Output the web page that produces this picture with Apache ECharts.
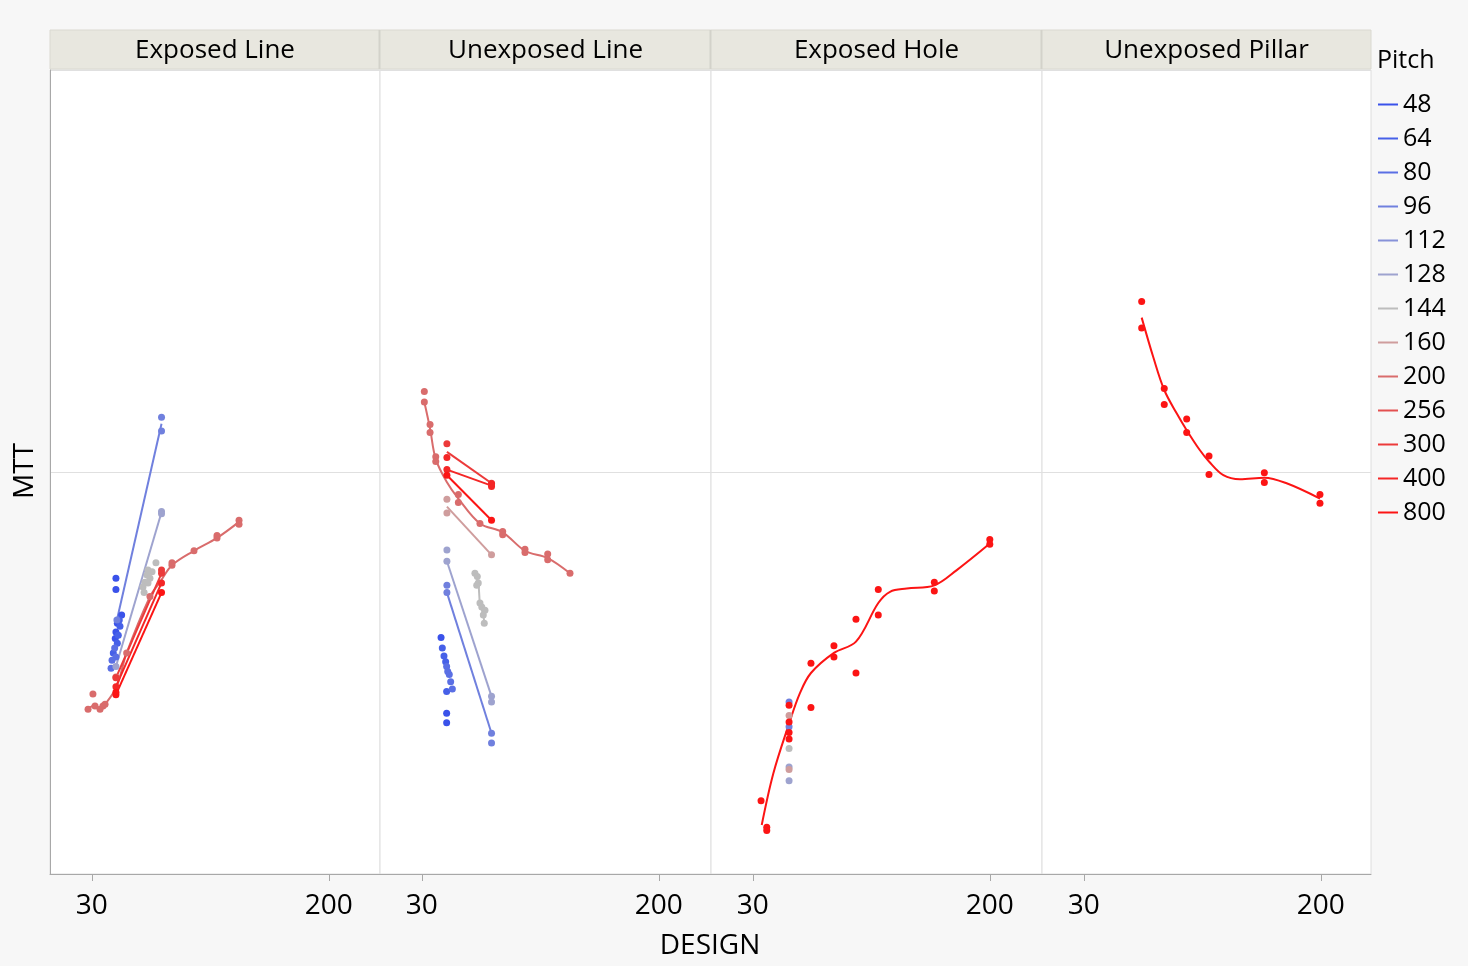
<!DOCTYPE html>
<html><head><meta charset="utf-8">
<script src="https://cdn.jsdelivr.net/npm/echarts@6/dist/echarts.min.js"></script>
<style>html,body{margin:0;padding:0;background:#f7f7f7;}#c{width:1468px;height:966px;}</style>
</head><body><div id="c"></div>
<script>
// ---------------- DATA ----------------
const pitches = ['48','64','80','96','112','128','144','160','200','256','300','400','800'];
const pitchColors = ['#3a52ea','#4660e8','#5a6fe4','#7080de','#8792d9','#9ea3cf','#bdbdbd','#cf9d9d','#d96c6c','#e35050','#ec3a3a','#f42626','#fc1414'];
const panelNames = ['Exposed Line','Unexposed Line','Exposed Hole','Unexposed Pillar'];
const designTicks = [30, 200];
const refMTT = 50;

// rows: [pitch, DESIGN, MTT]
const exposedLinePoints = [
  ['48',47.3,36.8],['48',47.3,35.4],['48',51.4,32.2],['48',48.3,31.2],['48',47.3,30.1],['48',46.8,29.3],
  ['64',49.7,31.6],['64',50.2,30.8],['64',49.0,29.7],['64',48.3,28.7],['64',45.4,27.5],
  ['80',46.4,28.1],['80',47.3,27.0],['80',44.5,26.6],['80',43.8,25.6],
  ['96',48,31.6],['96',80,56.8],['96',80,55.1],
  ['128',47.3,25.8],['128',80,45.1],['128',80,44.8],
  ['144',76.0,38.7],['144',70.3,37.8],['144',73.2,37.6],['144',69.6,37.2],['144',71.7,36.8],['144',68.1,36.3],['144',70.3,36.2],['144',66.7,35.7],['144',67.5,35.0],
  ['200',27.3,20.5],['200',30.8,22.4],['200',32.3,20.9],['200',35.9,20.5],['200',38.0,20.9],['200',39.5,21.1],['200',47.3,24.5],['200',55.0,27.5],['200',71.7,34.5],['200',87.5,38.4],['200',87.5,38.7],['200',103.3,40.2],['200',119.8,41.8],['200',119.8,42.1],['200',135.6,44.0],['200',135.6,43.5],
  ['300',47.3,24.4],['300',80,37.4],['300',80,37.8],
  ['400',47.3,23.3],['400',80,36.2],
  ['800',47.3,22.3],['800',47.3,22.6],['800',80,35.0]
];
const exposedLineLines = [
  ['96',48,31.6],['96',80,56.0],
  ['128',47.3,25.8],['128',80,45.0],
  ['300',47.3,24.4],['300',80,37.4],
  ['400',47.3,23.3],['400',80,36.2],
  ['800',47.3,22.3],['800',80,35.0],
  ['200',27.3,20.5],['200',30.8,20.9],['200',35.9,20.6],['200',39.5,21.1],['200',47.8,23.3],['200',55.0,27.5],['200',71.7,34.5],['200',78.9,36.3],['200',87.5,38.4],['200',103.3,40.2],['200',119.8,41.8],['200',135.6,43.8]
];

const unexposedLinePoints = [
  ['48',43.8,29.4],['48',47.8,20.0],['48',47.8,18.8],
  ['64',44.7,28.1],['64',45.9,27.1],['64',47.1,26.4],['64',47.8,22.7],
  ['80',47.8,25.8],['80',48.6,25.2],['80',49.7,24.8],['80',50.7,23.9],['80',51.9,23.0],
  ['96',48,35.9],['96',48,35.0],['96',80,17.5],['96',80,16.3],
  ['128',48,40.3],['128',48,38.9],['128',80,22.1],['128',80,21.4],
  ['144',68.1,37.4],['144',69.8,37.0],['144',70.5,36.2],['144',69.4,35.9],['144',71.7,33.7],['144',73.0,33.2],['144',75.3,32.8],['144',74.1,32.2],['144',74.8,31.2],
  ['160',48,46.6],['160',48,44.9],['160',80,39.7],
  ['200',31.8,60.0],['200',31.8,58.7],['200',35.9,55.9],['200',35.9,54.9],['200',40.0,51.9],['200',40.0,51.3],['200',56.2,47.2],['200',56.2,46.2],['200',71.7,43.6],['200',88,42.6],['200',88,42.2],['200',104,40.4],['200',104,40.0],['200',120.3,39.8],['200',120.3,39.1],['200',136.3,37.4],
  ['300',48,53.5],['300',80,48.6],
  ['400',48,51.8],['400',48,50.3],['400',80,48.2],['400',80,48.5],
  ['800',48,49.6],['800',80,44.0]
];
const unexposedLineLines = [
  ['96',48,35.0],['96',80,17.5],
  ['128',48,38.9],['128',80,22.1],
  ['144',68.1,37.4],['144',70.5,36.2],['144',71.7,33.7],['144',74.1,32.2],['144',74.8,31.2],
  ['160',48,45.7],['160',80,39.7],
  ['300',48,52.5],['300',80,48.6],
  ['400',48,50.3],['400',80,48.3],
  ['800',48,49.6],['800',80,44.0],
  ['200',31.8,58.7],['200',35.9,55.4],['200',40.0,51.6],['200',47.8,48.8],['200',56.2,46.7],['200',71.7,43.6],['200',88,42.5],['200',104,40.2],['200',120.3,39.3],['200',136.3,37.4]
];

const exposedHolePoints = [
  ['96',56,21.4],['96',56,18.3],
  ['128',56,13.3],['128',56,11.6],
  ['144',56,15.6],
  ['160',56,19.7],['160',56,13.0],
  ['800',35.9,9.1],['800',40,5.8],['800',40,5.4],['800',56,21.0],['800',56,18.9],['800',56,17.6],['800',56,16.8],
  ['800',71.7,26.2],['800',71.7,20.7],['800',88.2,28.4],['800',88.2,27.0],['800',104,31.7],['800',104,25.0],
  ['800',120,35.4],['800',120,32.2],['800',160.2,36.3],['800',160.2,35.2],['800',200,41.6],['800',200,41.0]
];
const exposedHoleFit = [
  ['800',36.4,6.1],['800',44.7,12.5],['800',56,18.7],['800',63.8,22.5],['800',71.7,25.0],['800',88.2,27.5],['800',104,28.9],
  ['800',120,33.7],['800',128.4,35.1],['800',140.4,35.5],['800',160.2,35.9],['800',176.3,37.8],['800',200,41.1]
];

const unexposedPillarPoints = [
  ['800',71.5,71.2],['800',71.5,67.9],['800',87.7,60.4],['800',87.7,58.4],['800',103.8,56.6],['800',103.8,54.9],
  ['800',119.8,52.0],['800',119.8,49.7],['800',159.5,49.9],['800',159.5,48.7],['800',199.4,47.2],['800',199.4,46.1]
];
const unexposedPillarFit = [
  ['800',71.5,69.2],['800',79.8,64.3],['800',87.7,60.2],['800',96.6,57.3],['800',103.8,55.2],['800',113.3,52.7],
  ['800',119.8,51.3],['800',130.1,49.6],['800',142.0,49.1],['800',159.5,49.3],['800',175.5,48.6],['800',199.4,46.7]
];

const panelPoints = [exposedLinePoints, unexposedLinePoints, exposedHolePoints, unexposedPillarPoints];
const panelLines = [exposedLineLines, unexposedLineLines, exposedHoleFit, unexposedPillarFit];

// ---------------- LAYOUT ----------------
const FONT = '"Open Sans", "Noto Sans", sans-serif';
const edges = [50, 380, 711, 1042, 1371];
const PX_PER_UNIT = 1.394;
const GT = 70, GH = 804;
const colorOf = p => pitchColors[pitches.indexOf(p)];

function groupBy(rows) {
  const m = {};
  rows.forEach(r => { (m[r[0]] = m[r[0]] || []).push([r[1], r[2]]); });
  return m;
}

const grids = [], xAxes = [], yAxes = [], series = [];
pitches.forEach((p, i) => {
  series.push({ name: p, type: 'line', data: [], xAxisIndex: 0, yAxisIndex: 0,
    itemStyle: { color: pitchColors[i] }, lineStyle: { color: pitchColors[i] } });
});

for (let k = 0; k < 4; k++) {
  const w = edges[k + 1] - edges[k];
  grids.push({ left: edges[k], top: GT, width: w, height: GH, show: true,
    backgroundColor: '#ffffff', borderColor: '#dedede', borderWidth: 1 });
  xAxes.push({ type: 'value', gridIndex: k, min: 0, max: w / PX_PER_UNIT,
    axisLine: { show: true, lineStyle: { color: '#a8a8a8', width: 1 } },
    axisTick: { show: true, length: 7, customValues: designTicks, lineStyle: { color: '#a8a8a8' } },
    axisLabel: { show: true, customValues: designTicks, fontSize: 28, color: '#000', fontFamily: FONT, margin: 18 },
    splitLine: { show: false } });
  yAxes.push({ type: 'value', gridIndex: k, min: 0, max: 100, interval: refMTT,
    axisLine: { show: k === 0, lineStyle: { color: '#a8a8a8', width: 1 } },
    axisTick: { show: false }, axisLabel: { show: false },
    splitLine: { show: true, lineStyle: { color: '#e0e0e0', width: 1 } } });

  const lg = groupBy(panelLines[k]);
  Object.keys(lg).forEach(p => {
    series.push({ name: p, type: 'line', xAxisIndex: k, yAxisIndex: k, data: lg[p],
      showSymbol: false, smooth: lg[p].length > 2 ? 0.35 : false, z: 2,
      lineStyle: { color: colorOf(p), width: 2 }, itemStyle: { color: colorOf(p) } });
  });
  const pg = groupBy(panelPoints[k]);
  Object.keys(pg).forEach(p => {
    series.push({ name: p, type: 'scatter', xAxisIndex: k, yAxisIndex: k, data: pg[p],
      symbol: 'circle', symbolSize: 7, z: 3, itemStyle: { color: colorOf(p), opacity: 1 } });
  });
}

function txt(x, y, s, size, align, rot) {
  return { type: 'text', x: x, y: y, rotation: rot || 0, z: 10,
    style: { text: s, font: size + 'px ' + FONT, fill: '#000',
      textAlign: align, textVerticalAlign: 'middle', align: align, verticalAlign: 'middle' } };
}
const graphic = [
  { type: 'rect', shape: { x: 50, y: 30, width: 1321, height: 39 }, style: { fill: '#e8e7df', stroke: '#dad9d1', lineWidth: 1 } }
];
[379.5, 710.5, 1041.5].forEach(x => graphic.push({ type: 'line', shape: { x1: x, y1: 30, x2: x, y2: 69 }, style: { stroke: '#d3d2ca', lineWidth: 2 } }));
panelNames.forEach((n, k) => graphic.push(txt((edges[k] + edges[k + 1]) / 2, 51, n, 26, 'center')));
graphic.push(txt(25, 471, 'MTT', 28, 'center', Math.PI / 2));
graphic.push(txt(710, 946, 'DESIGN', 28, 'center'));
graphic.push(txt(1377, 61, 'Pitch', 25, 'left'));

const chart = echarts.init(document.getElementById('c'));
chart.setOption({
  animation: false,
  backgroundColor: '#f7f7f7',
  grid: grids, xAxis: xAxes, yAxis: yAxes,
  legend: { data: pitches, orient: 'vertical', left: 1378, top: 92, padding: 0, icon: 'rect', itemWidth: 20, itemHeight: 2,
    itemGap: 9, textStyle: { fontSize: 25, lineHeight: 25, color: '#000', fontFamily: FONT } },
  graphic: graphic,
  series: series
});
</script></body></html>
